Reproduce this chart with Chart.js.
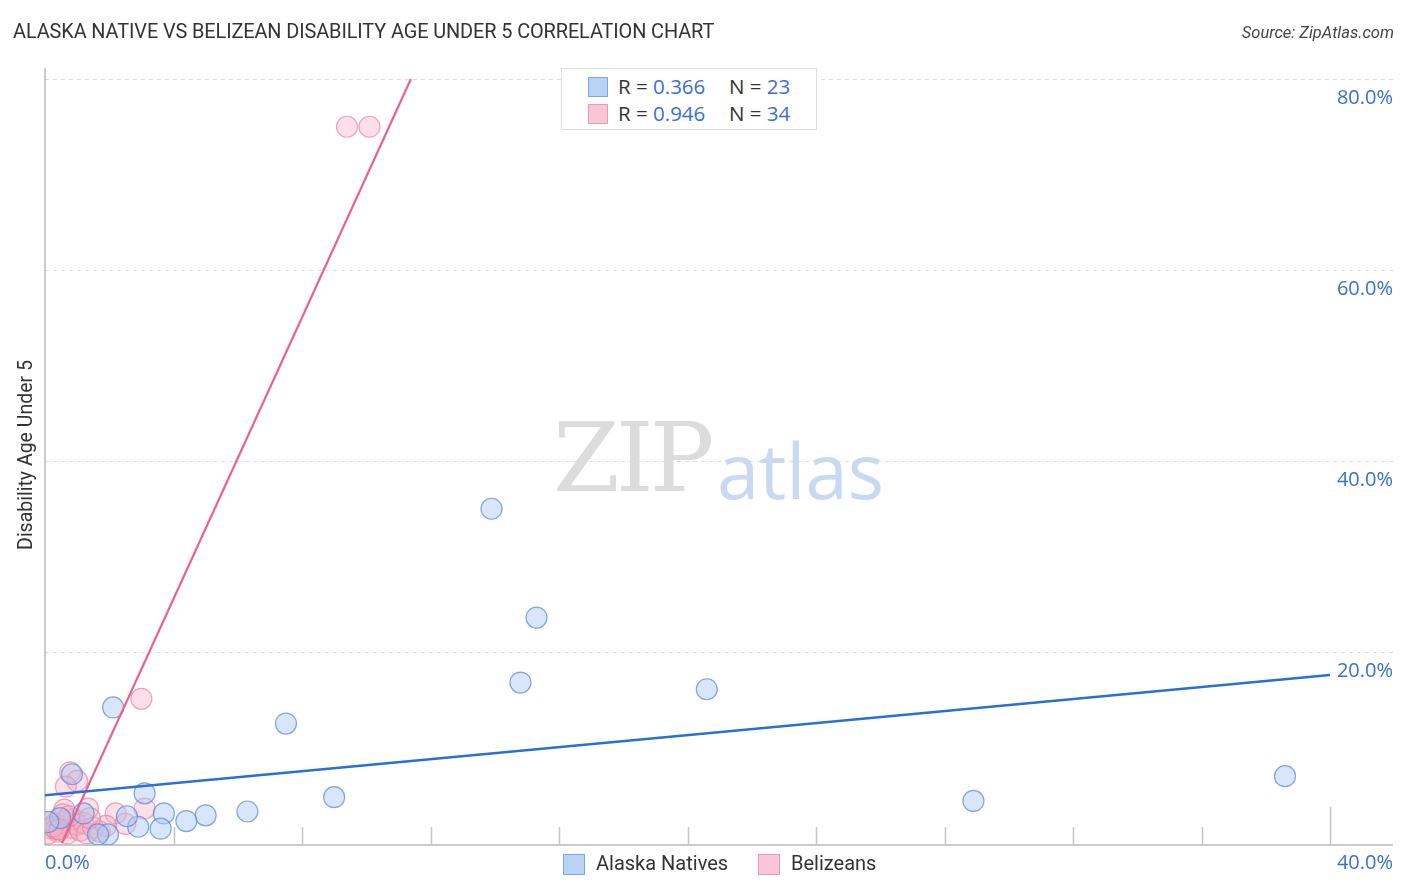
<!DOCTYPE html>
<html><head><meta charset="utf-8">
<script src="https://cdn.jsdelivr.net/npm/chart.js@4.4.1/dist/chart.umd.min.js"></script>
<style>
html,body{margin:0;padding:0;background:#fff;width:1406px;height:892px;overflow:hidden;font-family:"Open Sans",Roboto,sans-serif;}
#wrap{position:relative;width:1406px;height:892px;}
canvas{position:absolute;left:0;top:0;}
.abs{position:absolute;white-space:nowrap;}
#title{left:13px;top:20px;font-size:19.9px;color:#333;font-family:Roboto,sans-serif;letter-spacing:-0.1px;}
#source{right:12px;top:23px;font-size:16.5px;color:#444;font-style:italic;font-family:Roboto,sans-serif;}
#legbox{left:561px;top:68px;width:256px;height:62px;border:1px solid #ddd;background:#fff;box-sizing:border-box;}
.sq{position:absolute;width:20px;height:20px;box-sizing:border-box;}
.lt{position:absolute;font-size:20.5px;color:#333;font-family:"Open Sans",sans-serif;}
.lv{color:#3a70d0;}
#wm1{left:553px;top:402px;font-size:96px;color:#dcdcdc;font-family:"DejaVu Serif",serif;letter-spacing:-4px;}
#wm2{left:717px;top:418px;font-size:76px;color:#c9d9f2;font-family:"Open Sans",sans-serif;}
.bl{position:absolute;top:851px;font-size:20px;color:#333;font-family:Roboto,sans-serif;}
</style></head>
<body><div id="wrap">
<canvas id="c" width="1406" height="892"></canvas>
<div class="abs" id="wm1">ZIP</div>
<div class="abs" id="wm2">atlas</div>
<div class="abs" id="title">ALASKA NATIVE VS BELIZEAN DISABILITY AGE UNDER 5 CORRELATION CHART</div>
<div class="abs" id="source">Source: ZipAtlas.com</div>
<div class="abs" id="legbox">
  <div class="sq" style="left:26px;top:8px;background:#b9d3f5;border:1px solid #7aa6e6;"></div>
  <div class="lt" style="left:56px;top:3px;">R = <span class="lv">0.366</span></div>
  <div class="lt" style="left:167px;top:3px;">N = <span class="lv">23</span></div>
  <div class="sq" style="left:26px;top:35px;background:#f9c6d6;border:1px solid #ec9bb4;"></div>
  <div class="lt" style="left:56px;top:30px;">R = <span class="lv">0.946</span></div>
  <div class="lt" style="left:167px;top:30px;">N = <span class="lv">34</span></div>
</div>
<div class="sq" style="left:563px;top:854px;background:#b9d3f5;border:1px solid #7aa6e6;width:22px;height:21px;"></div>
<div class="bl" style="left:596px;">Alaska Natives</div>
<div class="sq" style="left:758px;top:854px;background:#f9c6d6;border:1px solid #ec9bb4;width:22px;height:21px;"></div>
<div class="bl" style="left:791px;">Belizeans</div>
</div>
<script>
// Data (percent values)
const alaskaX = [2.12,13.9,15.3,14.8,20.6,7.5,38.6,28.9,9.0,3.1,0.84,6.3,5.0,4.4,3.7,3.6,2.9,2.55,1.96,1.2,1.65,0.47,0.1];
const alaskaY = [14.2,35.0,23.6,16.8,16.1,12.5,7.0,4.4,4.8,5.2,7.2,3.3,2.9,2.3,3.1,1.5,1.7,2.8,0.9,3.1,0.9,2.6,2.2];
const belizeX = [9.4,10.1,3.0,0.78,1.0,0.65,1.34,2.2,3.1,2.5,0.6,
  0.2,0.3,0.4,0.5,0.6,0.7,0.8,0.9,1.0,1.1,1.2,1.3,1.5,1.7,1.9,0.1,0.15,0.35,0.55,0.75,1.4,0.25,0.45];
const belizeY = [75.0,75.0,15.1,7.4,6.5,5.9,3.6,3.1,3.6,2.0,3.5,
  1.5,2.0,1.2,1.8,2.3,1.0,1.6,2.5,1.9,1.3,2.1,1.0,1.6,1.2,1.8,1.0,2.2,1.5,3.0,2.8,2.6,1.7,1.4];
const alaskaTrend = {x:[0,40], y:[5.0,17.6]};
const belizeTrend = {x:[0.53,11.39], y:[0,80]};
const yTicks = [20,40,60,80];
const xTickLabels = [0,40];
const xTickMarks = [4,8,12,16,20,24,28,32,36,40];

const pts = (xs,ys)=>xs.map((x,i)=>({x:x,y:ys[i]}));

const decor = {
  id:'decor',
  beforeDatasetsDraw(chart){
    const {ctx, chartArea:a, scales:{x,y}} = chart;
    ctx.save();
    ctx.strokeStyle='#dddddd'; ctx.lineWidth=1; ctx.setLineDash([4,4]);
    yTicks.forEach(v=>{const py=Math.round(y.getPixelForValue(v))+0.5;ctx.beginPath();ctx.moveTo(a.left,py);ctx.lineTo(a.right,py);ctx.stroke();});
    ctx.setLineDash([]);
    ctx.strokeStyle='#bbbbbb'; ctx.lineWidth=1.5;
    ctx.beginPath();ctx.moveTo(a.left,a.top);ctx.lineTo(a.left,a.bottom);ctx.lineTo(a.right,a.bottom);ctx.stroke();
    ctx.strokeStyle='#c4c4c4'; ctx.lineWidth=1.5;
    xTickMarks.forEach(v=>{const px=Math.round(x.getPixelForValue(v))+0.5;const h=(v===40)?38:18;ctx.beginPath();ctx.moveTo(px,a.bottom);ctx.lineTo(px,a.bottom-h);ctx.stroke();});
    ctx.restore();
  },
  afterDraw(chart){
    const {ctx, chartArea:a, scales:{x,y}} = chart;
    ctx.save();
    ctx.fillStyle='#3a70d0'; ctx.font='20px "Open Sans", sans-serif';
    ctx.textAlign='right'; ctx.textBaseline='middle';
    yTicks.forEach(v=>{ctx.fillText(v.toFixed(1)+'%', a.right, y.getPixelForValue(v)+19);});
    xTickLabels.forEach((v,i)=>{ctx.textAlign = i===0?'left':'right';const px = i===0? x.getPixelForValue(v) : a.right; ctx.fillText(v.toFixed(1)+'%', px, 863);});
    ctx.fillStyle='#333'; ctx.font='19.5px Roboto, sans-serif'; ctx.textAlign='center';
    ctx.translate(27,455); ctx.rotate(-Math.PI/2); ctx.fillText('Disability Age Under 5',0,0);
    ctx.restore();
  }
};

new Chart(document.getElementById('c'),{
  type:'scatter',
  data:{datasets:[
    {label:'Alaska Natives trend',type:'line',data:pts(alaskaTrend.x,alaskaTrend.y),borderColor:'#2a6fd6',borderWidth:2.5,pointRadius:0,fill:false,order:0},
    {label:'Belizeans trend',type:'line',data:pts(belizeTrend.x,belizeTrend.y),borderColor:'#e8638f',borderWidth:2.2,pointRadius:0,fill:false,order:0},
    {label:'Belizeans',data:pts(belizeX,belizeY),backgroundColor:'rgba(247,175,198,0.4)',borderColor:'rgba(232,130,160,0.7)',borderWidth:1.2,pointRadius:10.5,order:2},
    {label:'Alaska Natives',data:pts(alaskaX,alaskaY),backgroundColor:'rgba(170,200,242,0.45)',borderColor:'rgba(90,140,220,0.75)',borderWidth:1.2,pointRadius:10.5,order:1}
  ]},
  options:{
    responsive:false,animation:false,
    layout:{padding:{left:45,top:68,right:13,bottom:47}},
    plugins:{legend:{display:false},tooltip:{enabled:false},title:{display:false}},
    scales:{
      x:{type:'linear',min:0,max:41.96,display:false},
      y:{type:'linear',min:-0.21,max:81.15,display:false}
    }
  },
  plugins:[decor]
});
</script>
</body></html>
